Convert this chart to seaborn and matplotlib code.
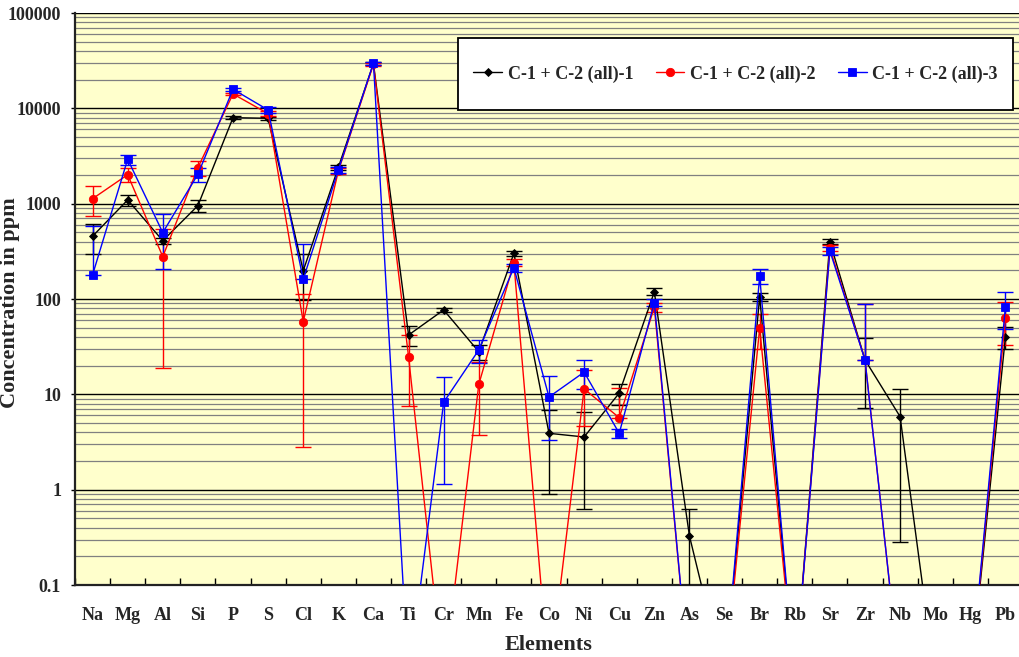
import numpy as np
import pandas as pd
import matplotlib
matplotlib.use("Agg")
import matplotlib.pyplot as plt
from matplotlib.patches import Rectangle
from matplotlib.ticker import FixedLocator, FixedFormatter, LogLocator, NullFormatter
import seaborn as sns

# ---------------- data ----------------
elements = ["Na", "Mg", "Al", "Si", "P", "S", "Cl", "K", "Ca", "Ti", "Cr", "Mn", "Fe",
            "Co", "Ni", "Cu", "Zn", "As", "Se", "Br", "Rb", "Sr", "Zr", "Nb", "Mo", "Hg", "Pb"]

series_names = ["C-1 + C-2 (all)-1", "C-1 + C-2 (all)-2", "C-1 + C-2 (all)-3"]

s1_vals = [455, 1094, 409, 953, 7980, 7860, 198, 2400, 29500, 41.9, 76.8, 28.0, 301,
           3.90, 3.57, 10.3, 119, 0.327, 0, 106, 0, 399, 23.0, 5.83, 0, 0, 40.3]
s1_err = [155, 140, 30, 140, 300, 300, 100, 150, 1000, 10, 4, 5, 20,
          3.0, 2.95, 2.6, 10, 0.305, 0, 10, 0, 25, 15.8, 5.55, 0, 0, 10.5]

s2_vals = [1127, 2014, 278, 2387, 14150, 8800, 57.8, 2200, 29000, 24.8, 0, 12.7, 240,
           0, 11.4, 5.69, 81.9, 0, 0, 49.7, 0, 340, 23.0, 0, 0, 0, 62.8]
s2_err = [390, 340, 259, 420, 500, 500, 55, 150, 1000, 17.3, 0, 9, 20,
          0, 6.7, 6, 8, 0, 0, 19.8, 0, 25, 65, 0, 0, 0, 30]

s3_vals = [179, 2924, 497, 2032, 15850, 9610, 161, 2250, 29800, 0, 8.26, 29.2, 213,
           9.38, 17.1, 3.90, 91.6, 0, 0, 174, 0, 319, 23.0, 0, 0, 0, 83.2]
s3_err = [404, 350, 290, 330, 600, 600, 214, 150, 1000, 0, 7.1, 8, 20,
          6.1, 5.8, 0.4, 8, 0, 0, 31, 0, 30, 65, 0, 0, 0, 35]

ytick_vals = [0.1, 1, 10, 100, 1000, 10000, 100000]
ytick_labels = ["0.1", "1", "10", "100", "1000", "10000", "100000"]

# zero (not detected) values are drawn far below the axis, as in the original
ZERO_FLOOR = 0.01

colors = ["#000000", "#FF0000", "#0000FF"]
markers = ["D", "o", "s"]
msizes = [4.5, 6.0, 6.0]

# ---------------- style ----------------
sns.set_theme(style="white")
plt.rcParams["font.family"] = ["Liberation Serif", "DejaVu Serif"]
plt.rcParams["font.weight"] = "bold"
plt.rcParams["axes.labelweight"] = "bold"

fig = plt.figure(figsize=(10.2, 6.57), dpi=100)
fig.patch.set_facecolor("white")
ax = fig.add_axes([75 / 1020, 72 / 657, 948 / 1020, 572 / 657])
ax.set_facecolor("#FFFFCC")

x = np.arange(len(elements))
all_vals = [s1_vals, s2_vals, s3_vals]
all_errs = [s1_err, s2_err, s3_err]

frames = []
for name, vals in zip(series_names, all_vals):
    v = np.asarray(vals, dtype=float)
    frames.append(pd.DataFrame({"pos": x, "element": elements,
                                "value": np.where(v > 0, v, ZERO_FLOOR),
                                "series": name}))
df = pd.concat(frames, ignore_index=True)

# error bars (drawn beneath the lines)
for vals, errs, col in zip(all_vals, all_errs, colors):
    v = np.asarray(vals, dtype=float)
    e = np.asarray(errs, dtype=float)
    m = (v > 0) & (e > 0)
    lower = np.where(e < v, e, 0.0)
    ax.errorbar(x[m], v[m], yerr=[lower[m], e[m]], fmt="none", ecolor=col,
                elinewidth=1.0, capsize=5.5, capthick=1.0, zorder=3)

for name, col, mk, ms in zip(series_names, colors, markers, msizes):
    sub = df[df["series"] == name]
    sns.lineplot(data=sub, x="pos", y="value", color=col, marker=mk, markersize=ms,
                 markeredgecolor=col, markeredgewidth=0.6, linewidth=1.0,
                 label=name, ax=ax, sort=False, estimator=None, zorder=4)

if ax.get_legend() is not None:
    ax.get_legend().remove()

ax.set_yscale("log")
ax.set_ylim(0.1, 100000)
ax.set_xlim(-0.5, len(elements) - 0.5)

# y ticks
ax.yaxis.set_major_locator(FixedLocator(ytick_vals))
ax.yaxis.set_major_formatter(FixedFormatter(ytick_labels))
ax.yaxis.set_minor_locator(LogLocator(base=10, subs=np.arange(2, 10), numticks=50))
ax.yaxis.set_minor_formatter(NullFormatter())
ax.tick_params(axis="y", which="major", direction="out", length=3, width=1,
               color="black", labelsize=13, pad=7, left=True)
ax.tick_params(axis="y", which="minor", length=0, left=False)

# x ticks: labels at centres, marks at boundaries
ax.set_xticks(x)
ax.set_xticklabels(elements)
ax.set_xticks(np.arange(len(elements) + 1) - 0.5, minor=True)
ax.tick_params(axis="x", which="major", length=0, labelsize=13, pad=16)
ax.tick_params(axis="x", which="minor", direction="in", length=5, width=1,
               color="black", bottom=True)
for lab in ax.get_xticklabels() + ax.get_yticklabels():
    lab.set_fontweight("bold")

# grid
ax.grid(True, which="major", axis="y", color="black", linewidth=1.0, zorder=0)
ax.grid(True, which="minor", axis="y", color="#808080", linewidth=0.9, zorder=0)
ax.grid(False, axis="x")
ax.set_axisbelow(True)

for side in ["left", "bottom"]:
    ax.spines[side].set_color("#222222")
    ax.spines[side].set_linewidth(1.6)
ax.spines["top"].set_visible(False)
ax.spines["right"].set_visible(False)

ax.set_xlabel("Elements", fontsize=16, fontweight="bold", labelpad=8)
ax.set_ylabel("Concentration in ppm", fontsize=16, fontweight="bold")
ax.yaxis.set_label_coords((20 - 75) / 948, (585 - 303) / 572)

# legend box (frame drawn separately so its size matches the original)
box_l, box_r, box_t, box_b = 458, 1013, 38, 110
frame = Rectangle((box_l / 1020, 1 - box_b / 657), (box_r - box_l) / 1020,
                  (box_b - box_t) / 657, transform=fig.transFigure,
                  facecolor="white", edgecolor="black", linewidth=1.3, zorder=5)
fig.patches.append(frame)

handles, labels = ax.get_legend_handles_labels()
leg = fig.legend(handles, labels, loc="center",
                 bbox_to_anchor=((box_l + box_r) / 2 / 1020, 1 - (box_t + box_b) / 2 / 657),
                 ncol=3,
                 prop={"family": "Liberation Serif", "weight": "bold", "size": 13},
                 frameon=False, borderpad=0, handlelength=1.6, handletextpad=0.3,
                 columnspacing=1.25, borderaxespad=0)
leg.set_zorder(6)

fig.savefig("out.png", dpi=100, facecolor="white")
